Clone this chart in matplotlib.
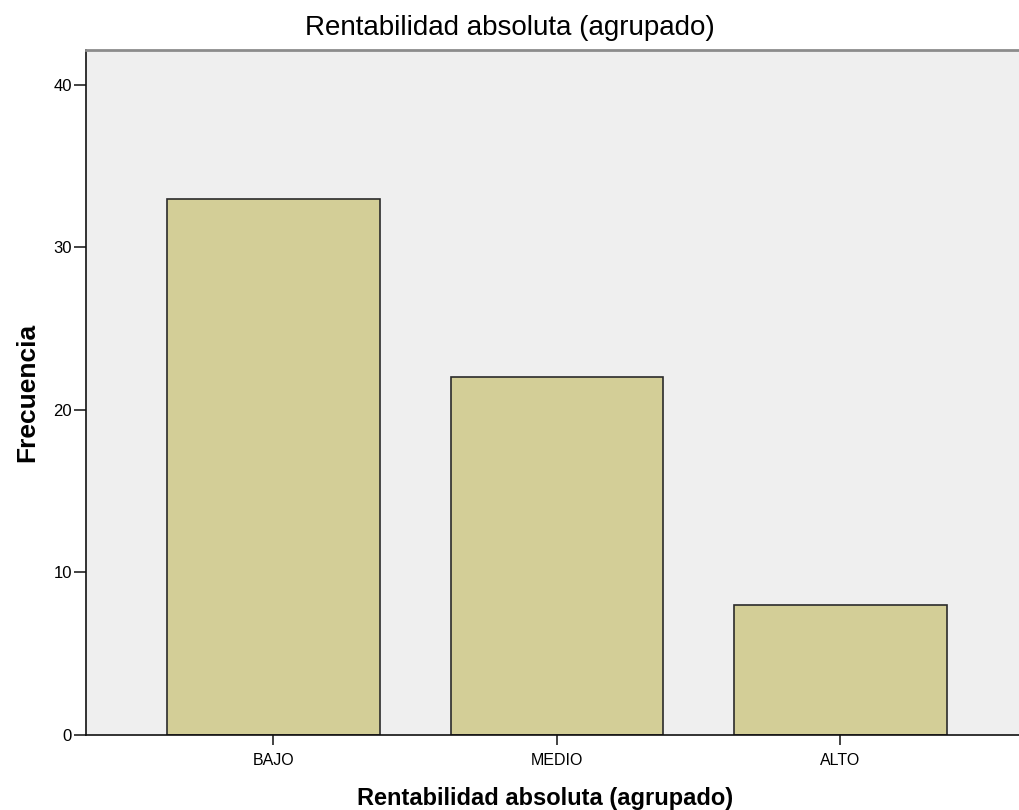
import numpy as np
import matplotlib
matplotlib.use('agg')
import matplotlib.pyplot as plt

plt.rcParams['font.family'] = ['Liberation Sans', 'DejaVu Sans']

# data
categorias = ['BAJO', 'MEDIO', 'ALTO']
frecuencias = [33, 22, 8]
yticks = [0, 10, 20, 30, 40]

fig = plt.figure(figsize=(10.19, 8.10), dpi=100)
ax = fig.add_axes([86/1019, 75/810, 1 - 86/1019, 685/810])
ax.set_facecolor('#efefef')

x = np.arange(len(categorias))
ax.bar(x, frecuencias, width=0.75, color='#d3ce97', edgecolor='#2b2b2b', linewidth=1.2, zorder=2)

ax.set_xlim(-0.661, 2.63)
ax.set_ylim(0, 42.15)
ax.set_xticks(x)
ax.set_xticklabels(categorias, fontsize=11.5)
ax.set_yticks(yticks)
ax.set_yticklabels([str(t) for t in yticks], fontsize=12)
ax.tick_params(axis='x', length=7.5, width=1.2, color='#222222', pad=5.5)
ax.tick_params(axis='y', length=8.5, width=1.2, color='#222222', pad=1.5)

for s in ['left', 'bottom']:
    ax.spines[s].set_color('#111111')
    ax.spines[s].set_linewidth(1.2)
ax.spines['top'].set_color('#8c8c8c')
ax.spines['top'].set_linewidth(2)
ax.spines['right'].set_visible(False)

# title is centred on the figure, not on the axes
fig.text(0.5, (810 - 35) / 810, 'Rentabilidad absoluta (agrupado)', fontsize=20,
         ha='center', va='baseline')
ax.set_xlabel('Rentabilidad absoluta (agrupado)', fontsize=17, fontweight='bold')
ax.xaxis.set_label_coords(0.4925, -0.076)
ax.xaxis.label.set_va('top')
ax.set_ylabel('Frecuencia', fontsize=19, fontweight='bold', labelpad=10)

fig.savefig('out.png', dpi=100)
plt.close(fig)
